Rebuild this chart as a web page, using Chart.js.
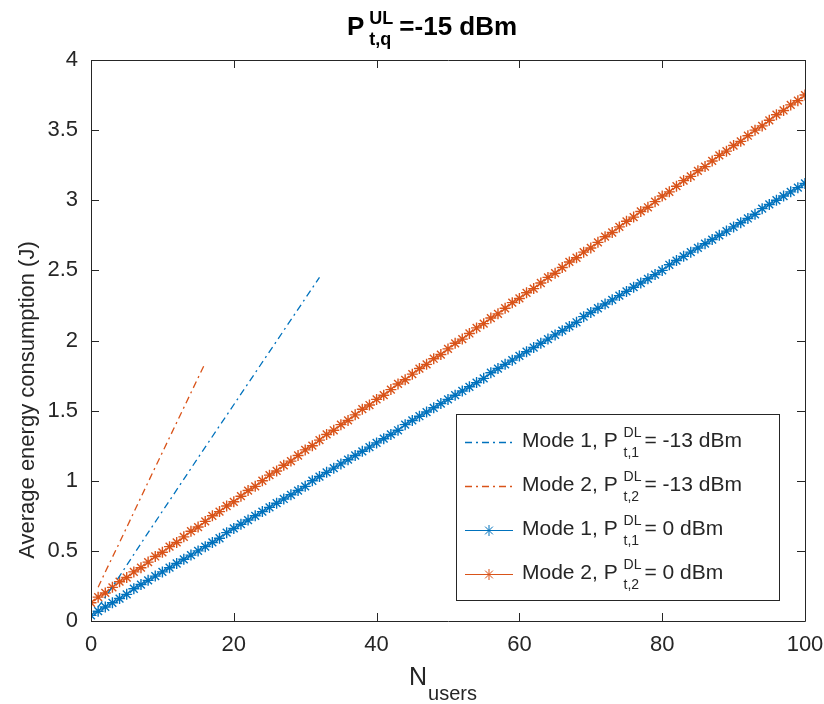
<!DOCTYPE html>
<html>
<head>
<meta charset="utf-8">
<script src="https://cdn.jsdelivr.net/npm/chart.js@4"></script>
<style>
html, body { margin: 0; padding: 0; background: #fff; }
#wrap { width: 824px; height: 704px; }
</style>
</head>
<body>
<div id="wrap"><canvas id="energyChart" width="824" height="704"></canvas></div>
<script>
const usersAll = [
    0, 1, 2, 3, 4, 5, 6, 7, 8, 9,
    10, 11, 12, 13, 14, 15, 16, 17, 18, 19,
    20, 21, 22, 23, 24, 25, 26, 27, 28, 29,
    30, 31, 32, 33, 34, 35, 36, 37, 38, 39,
    40, 41, 42, 43, 44, 45, 46, 47, 48, 49,
    50, 51, 52, 53, 54, 55, 56, 57, 58, 59,
    60, 61, 62, 63, 64, 65, 66, 67, 68, 69,
    70, 71, 72, 73, 74, 75, 76, 77, 78, 79,
    80, 81, 82, 83, 84, 85, 86, 87, 88, 89,
    90, 91, 92, 93, 94, 95, 96, 97, 98, 99,
    100
];

// Mode 1, P_t,1^DL = 0 dBm
const mode1ZeroDbm = [
    0.04, 0.07, 0.10, 0.13, 0.16, 0.19, 0.23, 0.26, 0.29, 0.32,
    0.35, 0.38, 0.41, 0.44, 0.47, 0.50, 0.53, 0.56, 0.59, 0.63,
    0.66, 0.69, 0.72, 0.75, 0.78, 0.81, 0.84, 0.87, 0.90, 0.93,
    0.96, 1.00, 1.03, 1.06, 1.09, 1.12, 1.15, 1.18, 1.21, 1.24,
    1.27, 1.30, 1.33, 1.36, 1.40, 1.43, 1.46, 1.49, 1.52, 1.55,
    1.58, 1.61, 1.64, 1.67, 1.70, 1.73, 1.77, 1.80, 1.83, 1.86,
    1.89, 1.92, 1.95, 1.98, 2.01, 2.04, 2.07, 2.10, 2.13, 2.17,
    2.20, 2.23, 2.26, 2.29, 2.32, 2.35, 2.38, 2.41, 2.44, 2.47,
    2.50, 2.54, 2.57, 2.60, 2.63, 2.66, 2.69, 2.72, 2.75, 2.78,
    2.81, 2.84, 2.87, 2.90, 2.94, 2.97, 3.00, 3.03, 3.06, 3.09,
    3.12
];

// Mode 2, P_t,2^DL = 0 dBm
const mode2ZeroDbm = [
    0.13, 0.17, 0.20, 0.24, 0.28, 0.31, 0.35, 0.38, 0.42, 0.46,
    0.49, 0.53, 0.56, 0.60, 0.64, 0.67, 0.71, 0.75, 0.78, 0.82,
    0.85, 0.89, 0.93, 0.96, 1.00, 1.04, 1.07, 1.11, 1.14, 1.18,
    1.22, 1.25, 1.29, 1.33, 1.36, 1.40, 1.43, 1.47, 1.51, 1.54,
    1.58, 1.61, 1.65, 1.69, 1.72, 1.76, 1.80, 1.83, 1.87, 1.90,
    1.94, 1.98, 2.01, 2.05, 2.09, 2.12, 2.16, 2.19, 2.23, 2.27,
    2.30, 2.34, 2.37, 2.41, 2.45, 2.48, 2.52, 2.56, 2.59, 2.63,
    2.66, 2.70, 2.74, 2.77, 2.81, 2.85, 2.88, 2.92, 2.95, 2.99,
    3.03, 3.06, 3.10, 3.14, 3.17, 3.21, 3.24, 3.28, 3.32, 3.35,
    3.39, 3.42, 3.46, 3.50, 3.53, 3.57, 3.61, 3.64, 3.68, 3.71,
    3.75
];

// -13 dBm curves only go up to 32 and 16 users
const usersMode1Low = [1, 2, 4, 8, 16, 32];
const mode1Minus13 = [0.10, 0.17, 0.32, 0.63, 1.24, 2.45];
const usersMode2Low = [1, 2, 4, 8, 16];
const mode2Minus13 = [0.24, 0.35, 0.56, 0.99, 1.84];

const xTicks = [0, 20, 40, 60, 80, 100];
const yTicks = [0, 0.5, 1, 1.5, 2, 2.5, 3, 3.5, 4];

const legendMain = ['Mode 1, P ', 'Mode 2, P ', 'Mode 1, P ', 'Mode 2, P '];
const legendSub = ['t,1', 't,2', 't,1', 't,2'];
const legendTail = ['= -13 dBm', '= -13 dBm', '= 0 dBm', '= 0 dBm'];

const BLUE = '#0072BD';
const ORANGE = '#D95319';
const INK = '#262626';
const FONT = '"Liberation Sans", Arial, Helvetica, sans-serif';
const DASHDOT = [7, 4, 2, 4];

function toPoints(xs, ys) {
    return xs.map((x, i) => ({ x: x, y: ys[i] }));
}

// stacked super/subscript, returns x after it
function drawSubSup(ctx, x, y, sup, sub, size, rise, drop) {
    ctx.font = size + 'px ' + FONT;
    ctx.fillText(sup, x, y - rise);
    ctx.fillText(sub, x, y + drop);
    return x + Math.max(ctx.measureText(sup).width, ctx.measureText(sub).width);
}

const matlabFrame = {
    id: 'matlabFrame',
    afterDraw(chart) {
        const ctx = chart.ctx;
        const area = chart.chartArea;
        const xs = chart.scales.x;
        const ys = chart.scales.y;
        ctx.save();

        // box + inward ticks
        ctx.strokeStyle = INK;
        ctx.lineWidth = 1;
        ctx.beginPath();
        ctx.rect(Math.round(area.left) + 0.5, Math.round(area.top) + 0.5,
            Math.round(area.right - area.left), Math.round(area.bottom - area.top));
        xTicks.forEach(v => {
            const px = Math.round(xs.getPixelForValue(v)) + 0.5;
            ctx.moveTo(px, area.bottom); ctx.lineTo(px, area.bottom - 8);
            ctx.moveTo(px, area.top); ctx.lineTo(px, area.top + 8);
        });
        yTicks.forEach(v => {
            const py = Math.round(ys.getPixelForValue(v)) + 0.5;
            ctx.moveTo(area.left, py); ctx.lineTo(area.left + 8, py);
            ctx.moveTo(area.right, py); ctx.lineTo(area.right - 8, py);
        });
        ctx.stroke();

        // legend
        const lx = 456, ly = 414, lw = 323, lh = 186;
        ctx.fillStyle = '#fff';
        ctx.fillRect(lx, ly, lw, lh);
        ctx.strokeStyle = INK;
        ctx.strokeRect(lx + 0.5, ly + 0.5, lw, lh);

        const sets = chart.data.datasets;
        legendMain.forEach((txt, i) => {
            const ds = sets[i];
            const cy = 442 + i * 44;
            ctx.save();
            ctx.strokeStyle = ds.borderColor;
            ctx.lineWidth = ds.borderWidth;
            ctx.setLineDash(ds.borderDash || []);
            ctx.beginPath();
            ctx.moveTo(465, cy + 0.5); ctx.lineTo(513, cy + 0.5);
            ctx.stroke();
            ctx.restore();
            if (ds.pointRadius > 0) {
                ctx.save();
                ctx.strokeStyle = ds.borderColor;
                ctx.fillStyle = ds.borderColor;
                Chart.helpers.drawPoint(ctx, { pointStyle: 'star', radius: ds.pointRadius, borderWidth: ds.pointBorderWidth, rotation: 0 }, 489, cy + 0.5);
                ctx.restore();
            }
            ctx.fillStyle = INK;
            ctx.textAlign = 'left';
            ctx.textBaseline = 'alphabetic';
            ctx.font = '21px ' + FONT;
            ctx.fillText(txt, 522, cy + 5);
            let nx = 522 + ctx.measureText(txt).width;
            nx = drawSubSup(ctx, nx, cy + 5, 'DL', legendSub[i], 14, 10, 10);
            ctx.font = '21px ' + FONT;
            ctx.fillText(legendTail[i], nx + 3, cy + 5);
        });

        // title  P_{t,q}^{UL} =-15 dBm
        ctx.fillStyle = '#000';
        ctx.font = 'bold 26px ' + FONT;
        ctx.fillText('P', 347, 35);
        let tx = 347 + ctx.measureText('P').width + 5;
        ctx.font = 'bold 18px ' + FONT;
        ctx.fillText('UL', tx, 24);
        ctx.fillText('t,q', tx, 45);
        tx += ctx.measureText('UL').width + 6;
        ctx.font = 'bold 26px ' + FONT;
        ctx.fillText('=-15 dBm', tx, 35);

        // x label  N_users
        ctx.fillStyle = INK;
        ctx.font = '25px ' + FONT;
        ctx.fillText('N', 409, 685);
        const nW = ctx.measureText('N').width;
        ctx.font = '20px ' + FONT;
        ctx.fillText('users', 409 + nW + 1, 700);

        // y label
        ctx.translate(34, 400);
        ctx.rotate(-Math.PI / 2);
        ctx.textAlign = 'center';
        ctx.font = '22px ' + FONT;
        ctx.fillText('Average energy consumption (J)', 0, 0);

        ctx.restore();
    }
};

const ctx = document.getElementById('energyChart').getContext('2d');
new Chart(ctx, {
    type: 'line',
    data: {
        datasets: [
            {
                label: 'Mode 1, -13 dBm',
                data: toPoints(usersMode1Low, mode1Minus13),
                borderColor: BLUE,
                borderWidth: 1.3,
                borderDash: DASHDOT,
                pointRadius: 0,
                fill: false
            },
            {
                label: 'Mode 2, -13 dBm',
                data: toPoints(usersMode2Low, mode2Minus13),
                borderColor: ORANGE,
                borderWidth: 1.3,
                borderDash: DASHDOT,
                pointRadius: 0,
                fill: false
            },
            {
                label: 'Mode 1, 0 dBm',
                data: toPoints(usersAll, mode1ZeroDbm),
                borderColor: BLUE,
                backgroundColor: BLUE,
                borderWidth: 1,
                pointStyle: 'star',
                pointRadius: 5.5,
                pointBorderWidth: 1.4,
                fill: false
            },
            {
                label: 'Mode 2, 0 dBm',
                data: toPoints(usersAll, mode2ZeroDbm),
                borderColor: ORANGE,
                backgroundColor: ORANGE,
                borderWidth: 1,
                pointStyle: 'star',
                pointRadius: 5.5,
                pointBorderWidth: 1.4,
                fill: false
            }
        ]
    },
    options: {
        responsive: false,
        animation: false,
        devicePixelRatio: 1,
        layout: { padding: { left: 0, right: 19, top: 60, bottom: 0 } },
        plugins: {
            legend: { display: false },
            title: { display: false },
            tooltip: { enabled: false }
        },
        scales: {
            x: {
                type: 'linear',
                min: 0,
                max: 100,
                grid: { display: false },
                border: { display: false },
                afterBuildTicks: s => { s.ticks = xTicks.map(v => ({ value: v })); },
                afterFit: s => { s.height = 83; s.paddingLeft = 0; s.paddingRight = 0; },
                ticks: { color: INK, font: { family: FONT, size: 22 }, padding: 3, maxRotation: 0, callback: v => String(v) }
            },
            y: {
                min: 0,
                max: 4,
                grid: { display: false },
                border: { display: false },
                afterBuildTicks: s => { s.ticks = yTicks.map(v => ({ value: v })); },
                afterFit: s => { s.width = 91; s.paddingTop = 0; s.paddingBottom = 0; },
                ticks: { color: INK, font: { family: FONT, size: 22 }, padding: 5, callback: v => String(v) }
            }
        }
    },
    plugins: [matlabFrame]
});
</script>
</body>
</html>
